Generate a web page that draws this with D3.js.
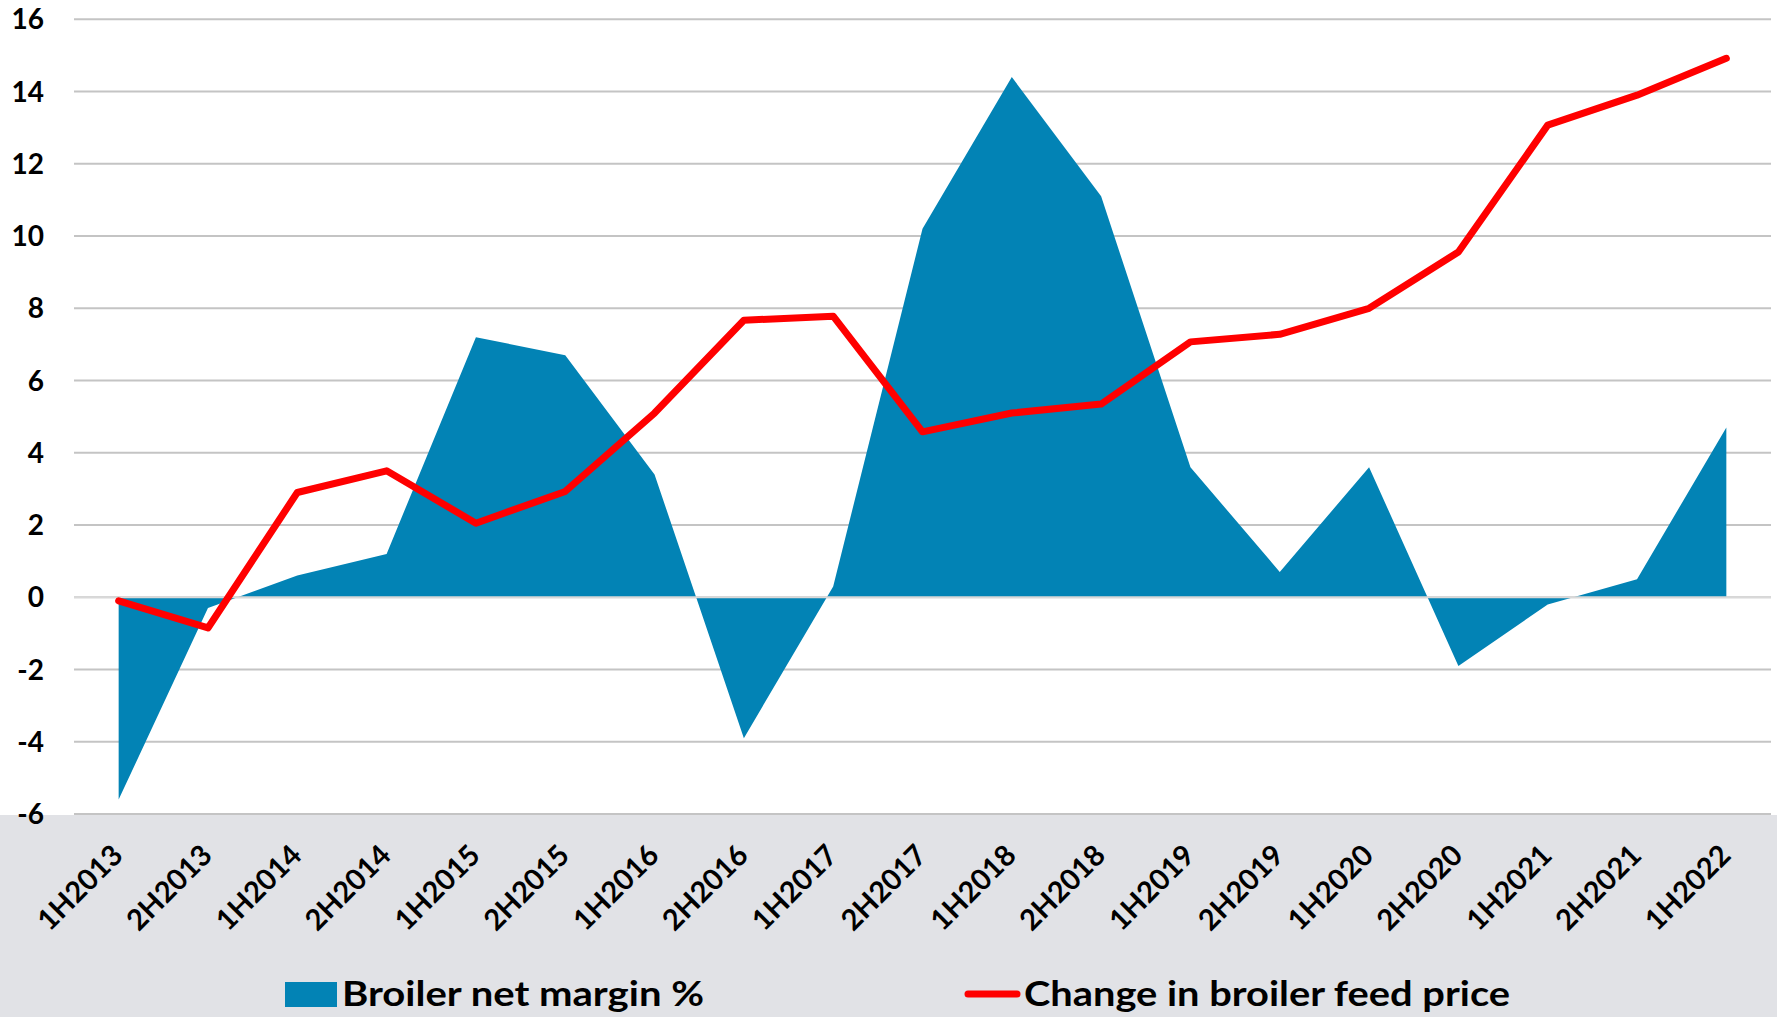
<!DOCTYPE html>
<html>
<head>
<meta charset="utf-8">
<script src="https://cdn.jsdelivr.net/npm/d3@7"></script>
<style>
  body { margin: 0; background: #fff; }
  svg { display: block; font-family: Lato, "Open Sans", sans-serif; }
</style>
</head>
<body>
<svg id="chart"></svg>
<script>
const categories = ["1H2013", "2H2013", "1H2014", "2H2014", "1H2015", "2H2015", "1H2016", "2H2016", "1H2017", "2H2017",
                    "1H2018", "2H2018", "1H2019", "2H2019", "1H2020", "2H2020", "1H2021", "2H2021", "1H2022"];
const netMargin = [-5.6, -0.3, 0.6, 1.2, 7.2, 6.7, 3.4, -3.9, 0.3, 10.2, 14.4, 11.1, 3.6, 0.7, 3.6, -1.9, -0.2, 0.5, 4.7];
const feedPrice = [-0.1, -0.85, 2.9, 3.5, 2.05, 2.93, 5.1, 7.67, 7.78, 4.58, 5.1, 5.35, 7.07, 7.28, 8.0, 9.56, 13.07, 13.9, 14.92];
const yTicks = [-6, -4, -2, 0, 2, 4, 6, 8, 10, 12, 14, 16];
const seriesNames = ["Broiler net margin %", "Change in broiler feed price"];

const W = 1777, H = 1017;
const plot = { left: 74, right: 1771, top: 19.3, bottom: 814 };

const svg = d3.select("#chart").attr("width", W).attr("height", H);

const x = d3.scaleBand().domain(categories).range([plot.left, plot.right]);
const cx = c => x(c) + x.bandwidth() / 2;
const y = d3.scaleLinear().domain([-6, 16]).range([plot.bottom, plot.top]);

// grey band behind the category labels and legend
svg.append("rect")
    .attr("x", 0).attr("y", plot.bottom + 1)
    .attr("width", W).attr("height", H - plot.bottom - 1)
    .attr("fill", "#e1e2e6");

// gridlines
svg.append("g")
    .selectAll("line")
    .data(yTicks)
    .enter().append("line")
    .attr("x1", plot.left).attr("x2", plot.right)
    .attr("y1", d => y(d)).attr("y2", d => y(d))
    .attr("stroke", "#c4c4c4")
    .attr("stroke-width", 2);

// y labels
svg.append("g")
    .selectAll("text")
    .data(yTicks)
    .enter().append("text")
    .attr("x", 44)
    .attr("y", d => y(d))
    .attr("dy", "0.36em")
    .attr("text-anchor", "end")
    .style("font-size", "28px")
    .style("font-weight", "bold")
    .attr("fill", "#000")
    .text(d => d);

const rows = categories.map((c, i) => ({ cat: c, margin: netMargin[i], feed: feedPrice[i] }));

// net margin area
svg.append("path")
    .datum(rows)
    .attr("fill", "#0283b5")
    .attr("d", d3.area()
        .x(d => cx(d.cat))
        .y0(y(0))
        .y1(d => y(d.margin)));

// zero axis line
svg.append("line")
    .attr("x1", plot.left).attr("x2", plot.right)
    .attr("y1", y(0)).attr("y2", y(0))
    .attr("stroke", "#d9d9d9")
    .attr("stroke-width", 2);

// feed price line
svg.append("path")
    .datum(rows)
    .attr("fill", "none")
    .attr("stroke", "#ff0000")
    .attr("stroke-width", 7)
    .attr("stroke-linejoin", "round")
    .attr("stroke-linecap", "round")
    .attr("d", d3.line()
        .x(d => cx(d.cat))
        .y(d => y(d.feed)));

// category labels
svg.append("g")
    .selectAll("text")
    .data(categories)
    .enter().append("text")
    .attr("transform", d => `translate(${cx(d) + 6},857) rotate(-45)`)
    .attr("text-anchor", "end")
    .style("font-size", "29px")
    .style("font-weight", "bold")
    .attr("fill", "#000")
    .text(d => d);

// legend
const legend = svg.append("g");
legend.append("rect")
    .attr("x", 285).attr("y", 982)
    .attr("width", 52).attr("height", 25)
    .attr("fill", "#0283b5");
legend.append("text")
    .attr("x", 342).attr("y", 1006)
    .attr("textLength", 362)
    .attr("lengthAdjust", "spacingAndGlyphs")
    .style("font-size", "34px")
    .style("font-weight", "bold")
    .text(seriesNames[0]);
legend.append("line")
    .attr("x1", 968).attr("x2", 1017)
    .attr("y1", 994).attr("y2", 994)
    .attr("stroke", "#ff0000")
    .attr("stroke-width", 7)
    .attr("stroke-linecap", "round");
legend.append("text")
    .attr("x", 1024).attr("y", 1006)
    .attr("textLength", 486)
    .attr("lengthAdjust", "spacingAndGlyphs")
    .style("font-size", "34px")
    .style("font-weight", "bold")
    .text(seriesNames[1]);
</script>
</body>
</html>
